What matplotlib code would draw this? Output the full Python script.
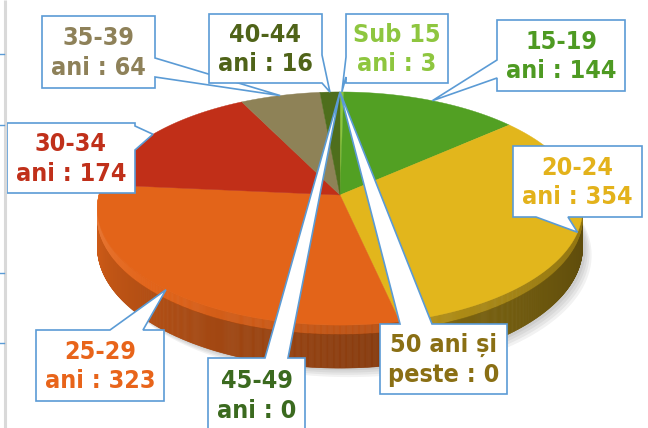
import numpy as np
import matplotlib
matplotlib.use('Agg')
from matplotlib import pyplot as plt
from matplotlib.patches import Polygon
from matplotlib.collections import PolyCollection
from matplotlib.colors import to_rgb

categories = ["Sub 15 ani", "15-19 ani", "20-24 ani", "25-29 ani", "30-34 ani",
              "35-39 ani", "40-44 ani", "45-49 ani", "50 ani și peste"]
counts = [3, 144, 354, 323, 174, 64, 16, 0, 0]

slice_colors = ["#8dc63f", "#52a023", "#e2b61c", "#e36419", "#c12f18",
                "#8e8257", "#4e6e1c", "#3b6a1f", "#8a6f14"]
label_colors = ["#8ec63f", "#4e9a22", "#e3b21b", "#e8641a", "#c0301a",
                "#8e8159", "#4f6318", "#3b6a1f", "#8a6f14"]

# callout boxes in pixels: (x0, y0, x1, y1), side the pointer leaves from, pointer base span
label_boxes = [
    ((346, 14, 448, 83), "left", (57, 77)),
    ((497, 20, 625, 91), "left", (60, 78)),
    ((513, 146, 642, 217), "bottom", (536, 568)),
    ((36, 330, 164, 401), "top", (110, 143)),
    ((7, 123, 135, 193), "right", (126, 150)),
    ((42, 16, 155, 88), "right", (58, 77)),
    ((209, 14, 322, 83), "right", (55, 83)),
    ((208, 358, 305, 432), "top", (265, 288)),
    ((380, 324, 507, 394), "top", (400, 432)),
]

BLUE = "#5b9bd5"
CX, CY = 340, 195      # projected pie centre
A, B, K = 241, 115, 0.116
DEPTH = 38


def project(theta, drop=0.0):
    # clockwise from 12 o'clock, simple perspective tilt
    u = np.sin(theta)
    v = -np.cos(theta)
    s = 1.0 / (1.0 - K * v)
    return CX + A * u * s, CY + B * v * s + drop * s


def shade(theta):
    deg = np.degrees(theta) % 360
    if deg < 90:
        return 0.4
    if deg > 270:
        return 0.95
    return 0.4 + 0.55 * ((deg - 90) / 180) ** 1.3


def tone(color, f):
    c = np.array(to_rgb(color))
    if f <= 1:
        return tuple(c * f)
    return tuple(c + (1 - c) * (f - 1))


def callout(box, side, base, tip):
    x0, y0, x1, y1 = box
    b0, b1 = base
    pts = [(x0, y0)]
    if side == "top":
        pts += [(b0, y0), tip, (b1, y0)]
    pts += [(x1, y0)]
    if side == "right":
        pts += [(x1, b0), tip, (x1, b1)]
    pts += [(x1, y1)]
    if side == "bottom":
        pts += [(b1, y1), tip, (b0, y1)]
    pts += [(x0, y1)]
    if side == "left":
        pts += [(x0, b1), tip, (x0, b0)]
    return pts


def label_text(cat, n):
    head, last = cat.rsplit(" ", 1)
    return "{}\n{} : {}".format(head, last, n)


fig = plt.figure(figsize=(6.48, 4.28), dpi=100)
ax = fig.add_axes([0, 0, 1, 1])
ax.set_xlim(0, 648)
ax.set_ylim(428, 0)
ax.axis('off')

# bits of the neighbouring sheet on the left
ax.plot([5, 5], [0, 428], color="#d9d9d9", lw=2.2, solid_capstyle='butt')
for yy in [54, 125, 273, 343]:
    ax.plot([0, 4], [yy, yy], color=BLUE, lw=1)

total = float(sum(counts))
edges = np.concatenate([[0], np.cumsum(counts) / total]) * 2 * np.pi
mids = (edges[:-1] + edges[1:]) / 2
nonzero = [i for i, n in enumerate(counts) if n > 0]

# soft shadow
th = np.linspace(0, 2 * np.pi, 361)
for k in range(4):
    sx, sy = project(th, DEPTH + 2 + 2 * k)
    ax.add_patch(Polygon(np.column_stack([sx + 3 + 2 * k, sy]), closed=True,
                         facecolor="black", edgecolor="none", alpha=0.05))

# side wall
steps = np.linspace(0, 2 * np.pi, 1441)
quads, cols, order = [], [], []
for t0, t1 in zip(steps[:-1], steps[1:]):
    tm = (t0 + t1) / 2
    if -np.cos(tm) < -0.3:
        continue
    idx = int(np.searchsorted(edges, tm, side='right') - 1)
    idx = min(idx, nonzero[-1])
    f = shade(tm)
    for d0, d1, ff in [(0, 0.22, f + 0.22), (0.22, 1.0, f)]:
        xa, ya = project(t0, DEPTH * d0)
        xb, yb = project(t1, DEPTH * d0)
        xc, yc = project(t1, DEPTH * d1)
        xd, yd = project(t0, DEPTH * d1)
        quads.append([(xa, ya), (xb, yb), (xc, yc), (xd, yd)])
        c = tone(slice_colors[idx], ff)
        cols.append(c)
        order.append(-np.cos(tm))
srt = np.argsort(order, kind='stable')
ax.add_collection(PolyCollection([quads[i] for i in srt], facecolors=[cols[i] for i in srt],
                                 edgecolors=[cols[i] for i in srt], linewidths=0.4))

# top face
for i in nonzero:
    arc = np.linspace(edges[i], edges[i + 1], max(3, int(counts[i] / total * 400)))
    px, py = project(arc)
    pts = [(CX, CY)] + list(zip(px, py))
    ax.add_patch(Polygon(pts, closed=True, facecolor=slice_colors[i],
                         edgecolor=slice_colors[i], lw=0.3))

# data labels with callouts
for i, cat in enumerate(categories):
    box, side, base = label_boxes[i]
    tip = project(mids[i])
    ax.add_patch(Polygon(callout(box, side, base, tip), closed=True,
                         facecolor="white", edgecolor=BLUE, lw=1.2, joinstyle='miter'))
    x0, y0, x1, y1 = box
    ax.text((x0 + x1) / 2, (y0 + y1) / 2 + 1, label_text(cat, counts[i]),
            ha='center', va='center', fontsize=18, fontweight='bold',
            fontstretch='condensed', family='DejaVu Sans', color=label_colors[i],
            linespacing=1.3)

fig.savefig("out.png", dpi=100)
